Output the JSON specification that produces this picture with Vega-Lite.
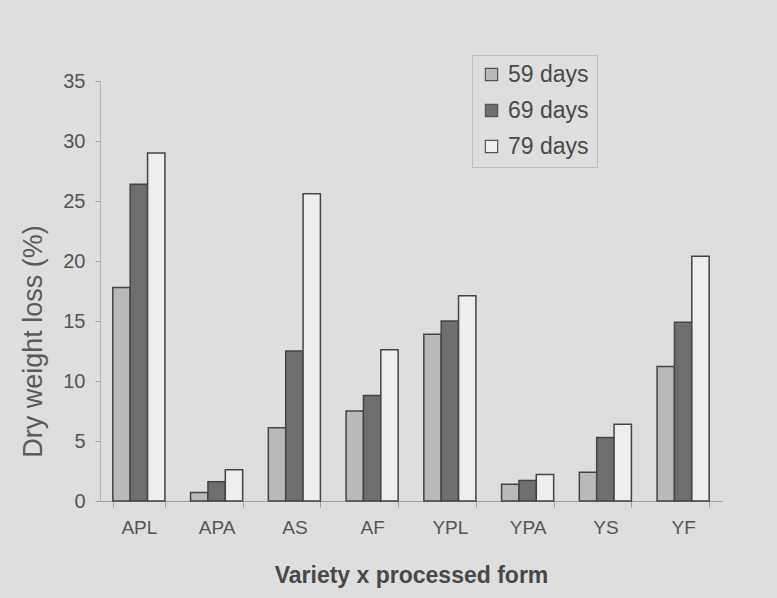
{
  "$schema": "https://vega.github.io/schema/vega-lite/v6.json",
  "width": 622,
  "height": 420,
  "autosize": {"type": "none"},
  "padding": {"left": 100, "top": 81, "right": 55, "bottom": 97},
  "background": "#dedede",
  "config": {
    "view": {"stroke": null},
    "font": "Liberation Sans"
  },
  "data": {
    "values": [
      {"form": "APL", "age": "59 days", "loss": 17.8},
      {"form": "APL", "age": "69 days", "loss": 26.4},
      {"form": "APL", "age": "79 days", "loss": 29.0},
      {"form": "APA", "age": "59 days", "loss": 0.7},
      {"form": "APA", "age": "69 days", "loss": 1.6},
      {"form": "APA", "age": "79 days", "loss": 2.6},
      {"form": "AS", "age": "59 days", "loss": 6.1},
      {"form": "AS", "age": "69 days", "loss": 12.5},
      {"form": "AS", "age": "79 days", "loss": 25.6},
      {"form": "AF", "age": "59 days", "loss": 7.5},
      {"form": "AF", "age": "69 days", "loss": 8.8},
      {"form": "AF", "age": "79 days", "loss": 12.6},
      {"form": "YPL", "age": "59 days", "loss": 13.9},
      {"form": "YPL", "age": "69 days", "loss": 15.0},
      {"form": "YPL", "age": "79 days", "loss": 17.1},
      {"form": "YPA", "age": "59 days", "loss": 1.4},
      {"form": "YPA", "age": "69 days", "loss": 1.7},
      {"form": "YPA", "age": "79 days", "loss": 2.2},
      {"form": "YS", "age": "59 days", "loss": 2.4},
      {"form": "YS", "age": "69 days", "loss": 5.3},
      {"form": "YS", "age": "79 days", "loss": 6.4},
      {"form": "YF", "age": "59 days", "loss": 11.2},
      {"form": "YF", "age": "69 days", "loss": 14.9},
      {"form": "YF", "age": "79 days", "loss": 20.4}
    ]
  },
  "mark": {"type": "bar", "stroke": "#444444", "strokeWidth": 1.5},
  "encoding": {
    "x": {
      "field": "form",
      "type": "nominal",
      "sort": null,
      "scale": {"paddingInner": 0.33, "paddingOuter": 0.165},
      "axis": {
        "title": "Variety x processed form",
        "titleFontSize": 23,
        "titleFontWeight": "bold",
        "titleColor": "#484848",
        "titlePadding": 27,
        "labelAngle": 0,
        "labelFontSize": 19,
        "labelColor": "#555555",
        "labelPadding": 11,
        "domainColor": "#a0a0a0",
        "tickColor": "#a0a0a0",
        "tickSize": 6,
        "tickBand": "extent"
      }
    },
    "xOffset": {"field": "age", "type": "nominal"},
    "y": {
      "field": "loss",
      "type": "quantitative",
      "scale": {"domain": [0, 35]},
      "axis": {
        "title": "Dry weight loss (%)",
        "titleFontSize": 27,
        "titleFontWeight": "normal",
        "titleColor": "#5a5a5a",
        "titleX": -67,
        "titleY": 260,
        "titleAlign": "center",
        "titleBaseline": "middle",
        "values": [0, 5, 10, 15, 20, 25, 30, 35],
        "labelFontSize": 20,
        "labelColor": "#555555",
        "labelPadding": 10,
        "domainColor": "#b0b0b0",
        "tickColor": "#a0a0a0",
        "tickSize": 5,
        "grid": false
      }
    },
    "color": {
      "field": "age",
      "type": "nominal",
      "scale": {
        "domain": ["59 days", "69 days", "79 days"],
        "range": ["#b9b9b9", "#6e6e6e", "#eeeeee"]
      },
      "legend": {
        "title": null,
        "orient": "none",
        "legendX": 372,
        "legendY": -26,
        "strokeColor": "#bdbdbd",
        "padding": 8,
        "symbolType": "square",
        "symbolSize": 150,
        "symbolStrokeColor": "#555555",
        "symbolStrokeWidth": 1.2,
        "labelFontSize": 23,
        "labelColor": "#4a4a4a",
        "labelOffset": 5,
        "rowPadding": 12
      }
    }
  }
}
